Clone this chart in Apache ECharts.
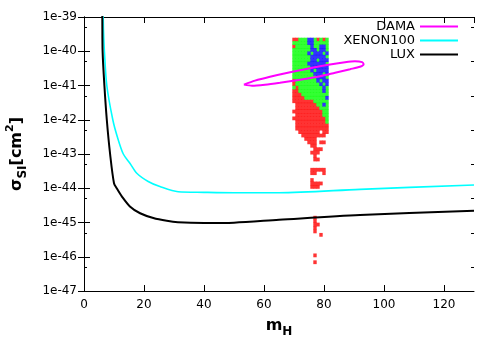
<!DOCTYPE html>
<html>
<head>
<meta charset="utf-8">
<title>DAMA / XENON100 / LUX</title>
<script src="https://cdn.jsdelivr.net/npm/echarts@6/dist/echarts.min.js"></script>
<style>
    html, body { margin: 0; padding: 0; background: #fff; }
    #main { width: 500px; height: 350px; }
</style>
</head>
<body>
<div id="main"></div>
<script>
    // limits: [m_H, sigma_SI in cm^2]
    var xenon100 = [
        [6.3, 3e-39], [6.4, 1e-39], [6.5, 4e-40], [6.8, 1e-40], [7.6, 1e-41], [9.6, 1e-42],
        [11.1, 3.2e-43], [13.1, 1e-43], [15.3, 5.4e-44], [17.6, 2.75e-44], [21.4, 1.58e-44],
        [25.3, 1.12e-44], [31.4, 7.9e-45], [40, 7.6e-45], [50, 7.4e-45], [65, 7.4e-45],
        [92, 9.3e-45], [130, 1.25e-44]
    ];
    var lux = [
        [6.0, 3e-39], [6.1, 1e-39], [6.2, 1e-40], [6.8, 1e-41], [7.6, 1e-42], [8.7, 1e-43],
        [10.0, 1.4e-44], [10.9, 1e-44], [12.6, 5.8e-45], [15.3, 2.95e-45], [18.7, 1.86e-45],
        [23.1, 1.35e-45], [27.6, 1.12e-45], [31.3, 1.02e-45], [40, 9.7e-46], [50, 9.9e-46],
        [65, 1.2e-45], [92, 1.66e-45], [130, 2.2e-45]
    ];
    // DAMA contour, upper edge left->right then lower edge back
    var dama = [
        [53.3, 1.06e-41], [57.0, 1.39e-41], [62.0, 1.81e-41], [68.7, 2.45e-41], [75.3, 3.2e-41],
        [82.0, 4.1e-41], [87.0, 4.79e-41], [90.3, 5.1e-41], [92.7, 4.8e-41], [93.2, 4.19e-41],
        [92.0, 3.54e-41], [88.7, 3.0e-41], [83.7, 2.37e-41], [78.7, 1.87e-41], [72.0, 1.48e-41],
        [65.3, 1.21e-41], [60.3, 1.06e-41], [56.0, 9.9e-42], [53.3, 1.06e-41]
    ];

    // scan points
    // one row per 0.1 decade (starting 10^-39.66), one column per unit of m_H (starting 70)
    // R = red, G = green, B = blue
    var cloudM0 = 70, cloudLog0 = -39.66, cloudStepM = 1, cloudStepLog = 0.1;
    var cloudRows = [
        'RRGGGBBGRGRG', 'GGGGGBBGGGGG', 'RGGGGGBGGBBG', 'GGGGGGBBGBBG', 'GGGGGBGBBBGB',
        'GGGGGGBBBBBG', 'GGGGGGBBGBBB', 'GGGGGBBBBBBG', 'GGGGGGBBBBBB', 'GGGGGGBGBBBB',
        'GGGGGGGBBBGB', 'GGGGGGGGBBBG', 'RGGGGGGGBGBB', 'RGGGGGGGGBGB', 'GRGGGGGGGGBG',
        'RRGGGGGGGGBG', 'RRRGGGGGGGGG', 'RRRRGGGGGGGB', 'RRRRRRRGGGGG', '.RRRRRRRGGBG',
        '.RRRRRRRRGGG', 'RRRRRRRRRRGG', '.RRRRRRRRRGG', 'RRRRRRRRRRRG', '.RRRRRRRRRRG',
        '.RRRRRRRRRRR', '.RRRRRRRRRRR', '..RRRRRRR.RR', '...RRRRRRRR.', '....RRRR....',
        '.....RRR.RR.', '......RR....', '.......RRR..', '......RRR...', '.......R....',
        '.......RR...', '', '', '......RRRRR.', '......RR..R.',
        '', '......R.....', '......RRRR..', '......RRR...', '',
        '', '', '', '', '',
        '', '', '.......R....', '.......R....', '.......RR...',
        '.......R....', '.......R....', '.........R..', '', '',
        '', '', '', '.......R....', '',
        '.......R....'
    ];

    // y axis runs over the decade exponent of sigma
    var yMin = -47, yMax = -39;
    var yMinorTicks = [-39.3, -40.3, -41.3, -42.3, -43.3, -44.3, -45.3, -46.3];

    function toLog(list) {
        return list.map(function (p) { return [p[0], Math.log10(p[1])]; });
    }

    var red = [], green = [], blue = [];
    cloudRows.forEach(function (row, r) {
        for (var c = 0; c < row.length; c++) {
            var p = [cloudM0 + c * cloudStepM, Math.pow(10, cloudLog0 - r * cloudStepLog)];
            if (row[c] === 'R') red.push(p);
            else if (row[c] === 'G') green.push(p);
            else if (row[c] === 'B') blue.push(p);
        }
    });

    var font = 'DejaVu Sans';
    var tick = {show: true, inside: true, length: 6, lineStyle: {color: '#000'}};
    var minorTick = {show: true, inside: true, length: 3, lineStyle: {color: '#000'}, customValues: yMinorTicks};

    function cloud(data, color) {
        return {
            type: 'scatter', data: toLog(data), symbol: 'rect', symbolSize: [3.4, 3.8],
            itemStyle: {color: color}, silent: true, z: 1
        };
    }
    function curve(name, data, color, width, smooth) {
        return {
            name: name, type: 'line', data: toLog(data), symbol: 'none', showSymbol: false,
            smooth: smooth, lineStyle: {color: color, width: width}, itemStyle: {color: color},
            z: 3, silent: true
        };
    }

    var chart = echarts.init(document.getElementById('main'));
    chart.setOption({
        animation: false,
        backgroundColor: '#fff',
        grid: {left: 84, right: 26, top: 17, bottom: 59, outerBoundsMode: 'none'},
        legend: {
            data: ['DAMA', 'XENON100', 'LUX'],
            orient: 'vertical', align: 'right', right: 42, top: 20, padding: 0,
            icon: 'rect', itemWidth: 38, itemHeight: 2, itemGap: 1, selectedMode: false,
            textStyle: {fontFamily: font, fontSize: 13, color: '#000'}
        },
        xAxis: [{
            type: 'value', min: 0, max: 130, interval: 20, position: 'bottom',
            axisLine: {lineStyle: {color: '#000', width: 1}},
            axisTick: tick,
            axisLabel: {fontFamily: font, fontSize: 12, color: '#000', margin: 8, showMaxLabel: false},
            splitLine: {show: false},
            name: '{b|m}{sub|H}', nameLocation: 'middle', nameGap: 23, nameMoveOverlap: false,
            nameTextStyle: {
                rich: {
                    b: {fontFamily: font, fontSize: 16, fontWeight: 'bold', color: '#000', lineHeight: 24},
                    sub: {fontFamily: font, fontSize: 12, fontWeight: 'bold', color: '#000', lineHeight: 12, verticalAlign: 'bottom'}
                }
            }
        }, {
            type: 'value', min: 0, max: 130, interval: 20, position: 'top',
            axisLine: {lineStyle: {color: '#000', width: 1}},
            axisTick: tick, axisLabel: {show: false}, splitLine: {show: false}
        }],
        yAxis: [{
            type: 'value', min: yMin, max: yMax, interval: 1, position: 'left',
            axisLine: {show: true, lineStyle: {color: '#000', width: 1}},
            axisTick: tick,
            axisLabel: {
                fontFamily: font, fontSize: 12, color: '#000', margin: 7,
                formatter: function (v) { return '1e' + v; }
            },
            splitLine: {show: false},
            name: '{b|σ}{sub|SI}{b|[cm}{sup|2}{b|]}', nameLocation: 'middle', nameGap: 55,
            nameMoveOverlap: false,
            nameTextStyle: {
                rich: {
                    b: {fontFamily: font, fontSize: 16, fontWeight: 'bold', color: '#000', lineHeight: 24},
                    sub: {fontFamily: font, fontSize: 12, fontWeight: 'bold', color: '#000', lineHeight: 12, verticalAlign: 'bottom'},
                    sup: {fontFamily: font, fontSize: 11, fontWeight: 'bold', color: '#000', lineHeight: 12, verticalAlign: 'top'}
                }
            }
        }, {
            type: 'value', min: yMin, max: yMax, interval: 1, position: 'right',
            axisLine: {show: true, lineStyle: {color: '#000', width: 1}},
            axisTick: tick, axisLabel: {show: false}, splitLine: {show: false}
        }, {
            type: 'value', min: yMin, max: yMax, position: 'left',
            axisLine: {show: false}, axisLabel: {show: false}, splitLine: {show: false},
            axisTick: minorTick
        }, {
            type: 'value', min: yMin, max: yMax, position: 'right',
            axisLine: {show: false}, axisLabel: {show: false}, splitLine: {show: false},
            axisTick: minorTick
        }],
        series: [
            cloud(red, '#ff0000'),
            cloud(green, '#00ff00'),
            cloud(blue, '#0000ff'),
            curve('DAMA', dama, '#ff00ff', 2, 0.25),
            curve('XENON100', xenon100, '#00ffff', 1.6, 0.3),
            curve('LUX', lux, '#000000', 2, 0.3)
        ]
    });
</script>
</body>
</html>
